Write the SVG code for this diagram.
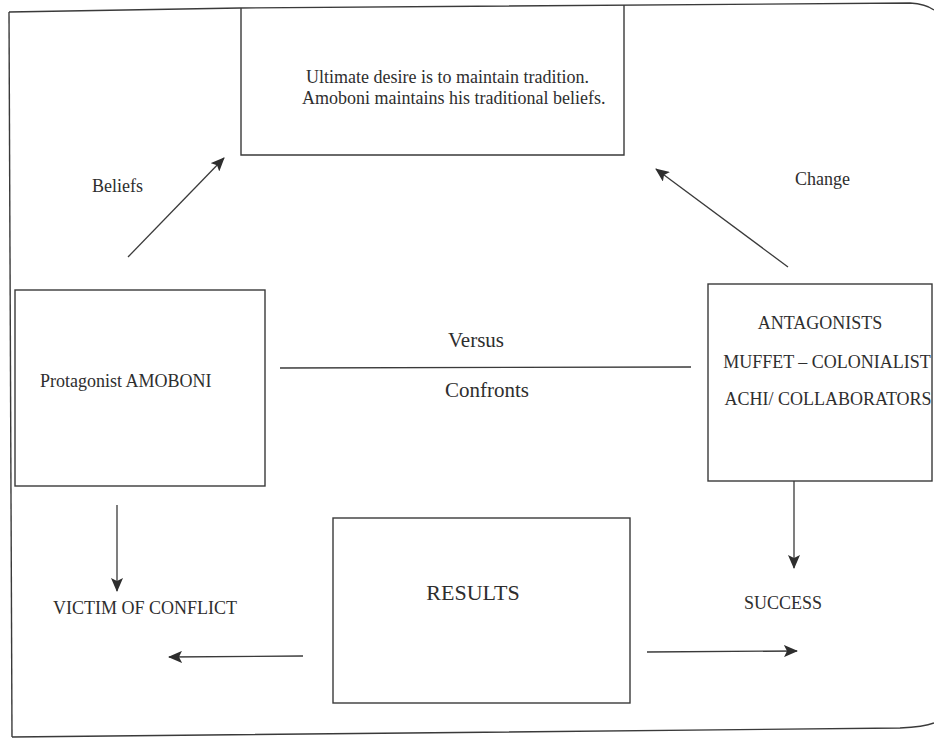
<svg xmlns="http://www.w3.org/2000/svg" width="934" height="739" viewBox="0 0 934 739">
<style>
.ln{fill:none;stroke:#3a3a3a;stroke-width:1.3}
.bx{fill:none;stroke:#3a3a3a;stroke-width:1.4}
.t{font-family:"Liberation Serif","Times New Roman",serif;font-size:18px;fill:#2e2e2e}
.big{font-size:22px}
.mid{font-size:21px}
</style>
<defs>
<marker id="ah" markerUnits="userSpaceOnUse" markerWidth="14" markerHeight="12" refX="13" refY="6" orient="auto">
<path d="M0,0 L14,6 L0,12 L3,6 Z" fill="#2e2e2e"/>
</marker>
</defs>
<rect width="934" height="739" fill="#ffffff"/>
<g id="frame">
<path class="bx" d="M9,12 L240,8 L910,3 Q926,4 934,10"/>
<path class="bx" d="M9,12 L12,737"/>
<path class="bx" d="M12,737 L900,728 Q924,727 934,723"/>
</g>
<g id="goal">
<path class="bx" d="M241,8 L241,155 L624,155 L624,5"/>
<text class="t" x="306" y="83">Ultimate desire is to maintain tradition.</text>
<text class="t" x="302" y="104">Amoboni maintains his traditional beliefs.</text>
</g>
<g id="protagonist">
<rect class="bx" x="15" y="290" width="250" height="196"/>
<text class="t" x="40" y="387">Protagonist AMOBONI</text>
</g>
<g id="antagonists">
<rect class="bx" x="708" y="284" width="224" height="197"/>
<text class="t" x="820" y="329" text-anchor="middle">ANTAGONISTS</text>
<text class="t" x="827" y="368" text-anchor="middle">MUFFET – COLONIALIST</text>
<text class="t" x="828" y="405" text-anchor="middle">ACHI/ COLLABORATORS</text>
</g>
<g id="results">
<rect class="bx" x="333" y="518" width="297" height="185"/>
<text class="t big" x="473" y="600" text-anchor="middle">RESULTS</text>
</g>
<g id="victim">
<text class="t" x="53" y="614">VICTIM OF CONFLICT</text>
</g>
<g id="success">
<text class="t" x="783" y="609" text-anchor="middle">SUCCESS</text>
</g>
<g id="connectors">
<line class="ln" x1="128" y1="257" x2="224" y2="158" marker-end="url(#ah)"/>
<text class="t" x="92" y="192">Beliefs</text>
<line class="ln" x1="788" y1="267" x2="656" y2="169" marker-end="url(#ah)"/>
<text class="t" x="795" y="185">Change</text>
<line class="ln" x1="280" y1="368" x2="691" y2="367"/>
<text class="t mid" x="476" y="347" text-anchor="middle">Versus</text>
<text class="t mid" x="487" y="397" text-anchor="middle">Confronts</text>
<line class="ln" x1="117" y1="505" x2="117" y2="591" marker-end="url(#ah)"/>
<line class="ln" x1="794" y1="481" x2="794" y2="568" marker-end="url(#ah)"/>
<line class="ln" x1="303" y1="656" x2="169" y2="657" marker-end="url(#ah)"/>
<line class="ln" x1="647" y1="652" x2="797" y2="651" marker-end="url(#ah)"/>
</g>
</svg>
